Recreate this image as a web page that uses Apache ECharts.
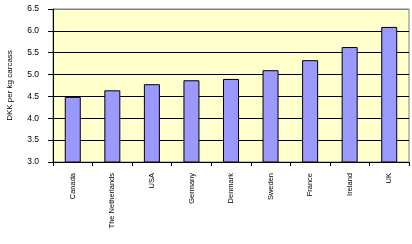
<!DOCTYPE html>
<html><head><meta charset="utf-8">
<script src="https://cdn.jsdelivr.net/npm/echarts@6/dist/echarts.min.js"></script>
<style>html,body{margin:0;padding:0;background:#fff}#c{width:412px;height:244px}</style>
</head><body><div id="c"></div>
<script>
const categories = ["Canada","The Netherlands","USA","Germany","Denmark","Sweden","France","Ireland","UK"];
const values = [4.49, 4.64, 4.78, 4.87, 4.90, 5.10, 5.33, 5.63, 6.09];
const yMin = 3.0, yMax = 6.5, yStep = 0.5;
const yTitle = "DKK per kg carcass";

const chart = echarts.init(document.getElementById('c'), null, {renderer:'canvas'});
chart.setOption({
  animation: false,
  backgroundColor: '#ffffff',
  grid: {left: 53, top: 9, width: 356, height: 153, containLabel: false, outerBoundsMode: 'none', show: true, backgroundColor: '#FFFFCC', borderColor: '#808080', borderWidth: 1},
  xAxis: {
    type: 'category', data: categories,
    axisLine: {lineStyle: {color: '#000', width: 1}},
    axisTick: {show: true, length: 4, lineStyle: {color: '#000'}},
    axisLabel: {rotate: 90, margin: 11, color: '#000', fontFamily: '"Liberation Sans Narrow", "Liberation Sans", Arial', fontSize: 7.5, interval: 0}
  },
  yAxis: {
    type: 'value', min: yMin, max: yMax, interval: yStep,
    name: yTitle, nameLocation: 'middle', nameGap: 39, nameRotate: 90,
    nameTextStyle: {color: '#000', fontFamily: '"Liberation Sans", Arial', fontSize: 8},
    axisLine: {show: true, lineStyle: {color: '#000', width: 1}},
    axisTick: {show: true, length: 5, lineStyle: {color: '#000'}},
    axisLabel: {margin: 14, color: '#000', fontFamily: '"Liberation Sans", Arial', fontSize: 8.5, formatter: v => v.toFixed(1)},
    splitLine: {show: true, lineStyle: {color: ['#000','#000','#000','#000','#000','#000','#000','#808080'], width: 1}}
  },
  series: [{
    type: 'bar', data: values, barWidth: 16,
    itemStyle: {color: '#9999FF', borderColor: '#000', borderWidth: 1}
  }]
});
</script></body></html>
